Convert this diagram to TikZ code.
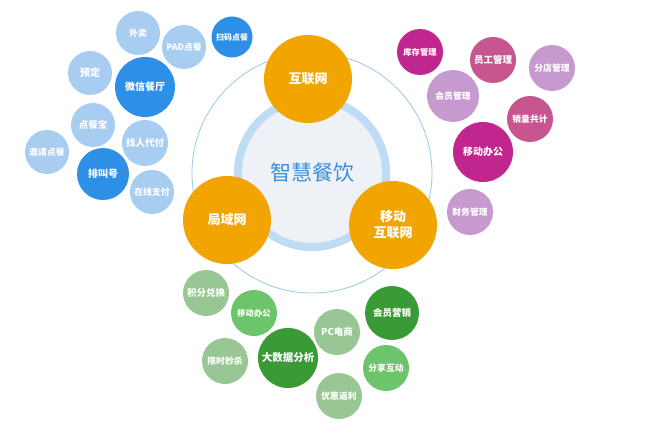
\documentclass[tikz,border=0pt]{standalone}
\usepackage{fontspec}
\setmainfont{Noto Sans CJK SC}
\definecolor{orangeC}{HTML}{F2A500}
\definecolor{centerFill}{HTML}{EEF2F6}
\definecolor{ringC}{HTML}{BEDDF5}
\definecolor{outerC}{HTML}{9CC8E6}
\definecolor{titleC}{HTML}{3A8EDB}
\definecolor{blueD}{HTML}{2E8FE6}
\definecolor{blueL}{HTML}{A8CDF1}
\definecolor{magD}{HTML}{C1268F}
\definecolor{magP}{HTML}{C65590}
\definecolor{magL}{HTML}{C79ACF}
\definecolor{greenD}{HTML}{3A9A36}
\definecolor{greenM}{HTML}{6CC56A}
\definecolor{greenL}{HTML}{98C795}
\tikzset{
  bub/.style={circle, inner sep=0pt, text=white, font=\fontsize{8.8}{10}\selectfont\bfseries, align=center},
  hub/.style={bub, fill=orangeC, minimum size=88pt, font=\fontsize{13}{16}\selectfont\bfseries},
}
\begin{document}
\begin{tikzpicture}[x=1pt,y=-1pt]
\useasboundingbox[fill=white] (0,0) rectangle (650,433);
% outer thin circle
\draw[outerC, line width=0.8pt] (312,173) circle (120);
% center
\node[circle, fill=centerFill, draw=ringC, line width=8pt, minimum size=148pt, inner sep=0pt,
  text=titleC, font=\fontsize{21}{24}\selectfont] (center) at (312,173) {智慧餐饮};
% hubs
\node[hub] (hlw) at (308,79) {互联网};
\node[hub] (jyw) at (227,220) {局域网};
\node[hub] (ydhlw) at (393,225) {移动\\互联网};
% blue cluster
\node[bub, fill=blueL, minimum size=44pt] (waimai) at (138,33) {外卖};
\node[bub, fill=blueL, minimum size=44pt] (pad) at (184,47) {PAD点餐};
\node[bub, fill=blueD, minimum size=41pt, font=\fontsize{8}{9}\selectfont\bfseries] (saoma) at (232,37) {扫码点餐};
\node[bub, fill=blueL, minimum size=44pt, font=\fontsize{10}{12}\selectfont\bfseries] (yuding) at (90,73) {预定};
\node[bub, fill=blueD, minimum size=60pt, font=\fontsize{10}{12}\selectfont\bfseries] (weixin) at (145,87) {微信餐厅};
\node[bub, fill=blueL, minimum size=44pt, font=\fontsize{9.5}{11}\selectfont\bfseries] (dcb) at (93,125) {点餐宝};
\node[bub, fill=blueL, minimum size=46pt, font=\fontsize{9.5}{11}\selectfont\bfseries] (zrdf) at (145,143) {找人代付};
\node[bub, fill=blueL, minimum size=44pt] (yqdc) at (47,152) {邀请点餐};
\node[bub, fill=blueD, minimum size=52pt, font=\fontsize{10}{12}\selectfont\bfseries] (pjh) at (103,174) {排叫号};
\node[bub, fill=blueL, minimum size=44pt] (zxzf) at (152,192) {在线支付};
% magenta cluster
\node[bub, fill=magD, minimum size=46pt, font=\fontsize{8.3}{10}\selectfont\bfseries] (kcgl) at (420,52) {库存管理};
\node[bub, fill=magP, minimum size=46pt, font=\fontsize{9.5}{11}\selectfont\bfseries] (yggl) at (493,60) {员工管理};
\node[bub, fill=magL, minimum size=46pt] (fdgl) at (552,68) {分店管理};
\node[bub, fill=magL, minimum size=52pt] (hygl) at (453,96) {会员管理};
\node[bub, fill=magP, minimum size=46pt] (xlgj) at (530,119) {销量共计};
\node[bub, fill=magD, minimum size=60pt, font=\fontsize{10}{12}\selectfont\bfseries] (ydbg) at (483,152) {移动办公};
\node[bub, fill=magL, minimum size=46pt] (cwgl) at (470,212) {财务管理};
% green cluster
\node[bub, fill=greenL, minimum size=46pt, font=\fontsize{9.5}{11}\selectfont\bfseries] (jfdh) at (206,293) {积分兑换};
\node[bub, fill=greenM, minimum size=46pt, font=\fontsize{8.3}{10}\selectfont\bfseries] (ydbg2) at (254,313) {移动办公};
\node[bub, fill=greenL, minimum size=46pt] (xsms) at (225,361) {限时秒杀};
\node[bub, fill=greenD, minimum size=60pt, font=\fontsize{10.5}{12}\selectfont\bfseries] (dsjfx) at (288,358) {大数据分析};
\node[bub, fill=greenL, minimum size=46pt, font=\fontsize{9.5}{11}\selectfont\bfseries] (pcds) at (337,332) {PC电商};
\node[bub, fill=greenD, minimum size=54pt, font=\fontsize{9.5}{11}\selectfont\bfseries] (hyyx) at (392,313) {会员营销};
\node[bub, fill=greenM, minimum size=46pt] (fxhd) at (386,368) {分享互动};
\node[bub, fill=greenL, minimum size=46pt] (yhfl) at (339,396) {优惠返利};
\end{tikzpicture}
\end{document}
